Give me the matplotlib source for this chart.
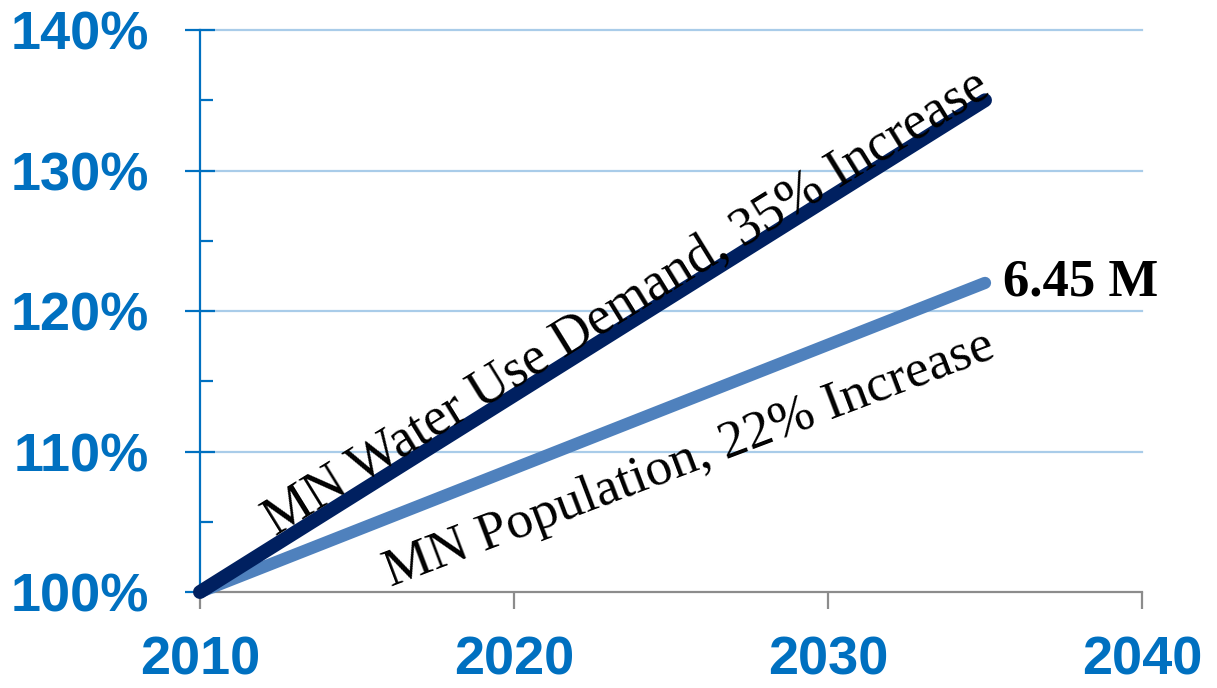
import matplotlib.pyplot as plt
from matplotlib.ticker import FuncFormatter, MultipleLocator

# projections, indexed to 2010 = 100%
years = [2010, 2035]
water_demand = [100, 135]
population = [100, 122]

x_ticks = [2010, 2020, 2030, 2040]
y_ticks = [100, 110, 120, 130, 140]

water_label = "MN Water Use Demand, 35% Increase"
pop_label = "MN Population, 22% Increase"
pop_end_label = "6.45 M"

blue = '#0070c0'
gray = '#8c8c8c'

fig = plt.figure(figsize=(12.17, 6.88), dpi=100)
ax = fig.add_axes([0.1643, 0.1395, 0.9384 - 0.1643, 0.9564 - 0.1395])

ax.set_xlim(2010, 2040)
ax.set_ylim(100, 140)

# gridlines
for y in y_ticks[1:]:
    ax.axhline(y, color='#a9cce9', lw=1.6, zorder=1, clip_on=False)

ax.plot(years, population, color='#4f81bd', lw=8.8, solid_capstyle='round',
        zorder=3, clip_on=False)
ax.plot(years, water_demand, color='#002060', lw=10, solid_capstyle='round',
        zorder=4, clip_on=False)

# labels along the lines
ax.text(2012.4, 104.0, water_label, rotation=31.7, rotation_mode='anchor',
        ha='left', va='baseline', fontsize=39, family='Liberation Serif',
        color='black', zorder=5)
ax.text(2016.1, 100.35, pop_label, rotation=20.8, rotation_mode='anchor',
        ha='left', va='baseline', fontsize=38.5, family='Liberation Serif',
        color='black', zorder=5)
ax.annotate(pop_end_label, xy=(years[-1], population[-1]), xytext=(13, 0),
            textcoords='offset points', ha='left', va='center', fontsize=38,
            family='Liberation Serif', fontweight='bold', color='black',
            annotation_clip=False)

# spines
for side in ['top', 'right']:
    ax.spines[side].set_visible(False)
ax.spines['left'].set_color(blue)
ax.spines['left'].set_linewidth(1.6)
ax.spines['bottom'].set_color(gray)
ax.spines['bottom'].set_linewidth(1.6)

ax.set_xticks(x_ticks)
ax.set_yticks(y_ticks)
ax.yaxis.set_minor_locator(MultipleLocator(5))
ax.yaxis.set_major_formatter(FuncFormatter(lambda v, p: f"{v:.0f}%"))

ax.tick_params(axis='y', which='major', direction='inout', length=21.6,
               width=1.6, color=blue, pad=26, labelsize=39, labelcolor=blue)
ax.tick_params(axis='y', which='minor', direction='in', length=9.4,
               width=1.6, color=blue)
ax.tick_params(axis='x', which='major', direction='out', length=12,
               width=1.6, color=gray, pad=19, labelsize=39, labelcolor=blue)

for lab in ax.get_xticklabels() + ax.get_yticklabels():
    lab.set_family('Liberation Sans')
    lab.set_fontweight('bold')

fig.savefig('out.png', dpi=100)
